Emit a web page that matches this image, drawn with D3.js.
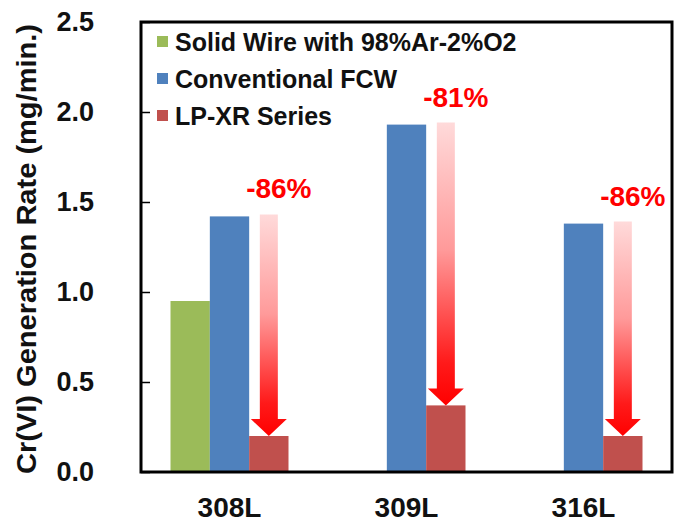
<!DOCTYPE html>
<html>
<head>
<meta charset="utf-8">
<script src="https://cdn.jsdelivr.net/npm/d3@7"></script>
<style>
  html, body { margin: 0; padding: 0; background: #fff; }
  svg { display: block; font-family: Arial, "Liberation Sans", sans-serif; }
</style>
</head>
<body>
<svg id="chart" width="680" height="523"></svg>
<script>
// Cr(VI) generation rate by stainless grade and welding consumable
const grades = ["308L", "309L", "316L"];
const seriesNames = ["Solid Wire with 98%Ar-2%O2", "Conventional FCW", "LP-XR Series"];
const solidWire = [0.95, null, null];
const conventionalFCW = [1.42, 1.93, 1.38];
const lpxrSeries = [0.20, 0.37, 0.20];
const reductionLabels = ["-86%", "-81%", "-86%"];
const yTicks = [0.0, 0.5, 1.0, 1.5, 2.0, 2.5];
const seriesColors = ["#9BBB59", "#4F81BD", "#C0504D"];

const seriesValues = [solidWire, conventionalFCW, lpxrSeries];

const svg = d3.select("#chart");
const plot = { left: 141, top: 22, right: 672, bottom: 472 };

const x0 = d3.scaleBand()
  .domain(grades)
  .range([plot.left, plot.right])
  .paddingInner(1 / 3)
  .paddingOuter(1 / 6);

const x1 = d3.scaleBand()
  .domain(d3.range(seriesNames.length))
  .range([0, x0.bandwidth()])
  .padding(0);

const y = d3.scaleLinear()
  .domain([0, 2.5])
  .range([plot.bottom, plot.top]);

// gradient used for the reduction arrows
const defs = svg.append("defs");
const grad = defs.append("linearGradient")
  .attr("id", "arrowGrad")
  .attr("x1", 0).attr("y1", 0).attr("x2", 0).attr("y2", 1);
grad.append("stop").attr("offset", "0%").attr("stop-color", "#FFDADA");
grad.append("stop").attr("offset", "45%").attr("stop-color", "#FF9A9A");
grad.append("stop").attr("offset", "85%").attr("stop-color", "#FF1A1A");
grad.append("stop").attr("offset", "100%").attr("stop-color", "#FF0000");

// bars
const barRows = [];
grades.forEach((g, gi) => {
  seriesValues.forEach((vals, si) => {
    if (vals[gi] != null) barRows.push({ grade: g, si, value: vals[gi] });
  });
});

svg.append("g").selectAll("rect")
  .data(barRows)
  .join("rect")
  .attr("x", d => x0(d.grade) + x1(d.si))
  .attr("y", d => y(d.value))
  .attr("width", x1.bandwidth())
  .attr("height", d => y(0) - y(d.value))
  .attr("fill", d => seriesColors[d.si]);

// reduction arrows from conventional FCW level down to LP-XR level
const shaftW = 18, headW = 36, headH = 17;
const arrows = svg.append("g");
grades.forEach((g, gi) => {
  const cx = x0(g) + x1(2) + x1.bandwidth() / 2;
  const yTop = y(conventionalFCW[gi]) - 2;
  const yTip = y(lpxrSeries[gi]);
  const yHead = yTip - headH;
  const path = [
    [cx - shaftW / 2, yTop],
    [cx + shaftW / 2, yTop],
    [cx + shaftW / 2, yHead],
    [cx + headW / 2, yHead],
    [cx, yTip],
    [cx - headW / 2, yHead],
    [cx - shaftW / 2, yHead]
  ];
  arrows.append("path")
    .attr("d", d3.line()(path) + "Z")
    .attr("fill", "url(#arrowGrad)");
  arrows.append("text")
    .attr("x", cx + 10)
    .attr("y", yTop - 16)
    .attr("text-anchor", "middle")
    .attr("font-size", 28)
    .attr("font-weight", "bold")
    .attr("fill", "#FF0000")
    .text(reductionLabels[gi]);
});

// frame
svg.append("rect")
  .attr("x", plot.left)
  .attr("y", plot.top)
  .attr("width", plot.right - plot.left)
  .attr("height", plot.bottom - plot.top)
  .attr("fill", "none")
  .attr("stroke", "#000")
  .attr("stroke-width", 3);

// y axis: inward ticks, labels outside
const yAxis = d3.axisLeft(y)
  .tickValues(yTicks)
  .tickFormat(d3.format(".1f"))
  .tickSizeInner(-9)
  .tickSizeOuter(0)
  .tickPadding(47);
const yg = svg.append("g")
  .attr("transform", `translate(${plot.left},0)`)
  .call(yAxis);
yg.select(".domain").remove();
yg.selectAll(".tick line").attr("stroke", "#000").attr("stroke-width", 1.5);
yg.selectAll(".tick text")
  .attr("font-size", 27)
  .attr("font-weight", "bold")
  .attr("font-family", "Arial, 'Liberation Sans', sans-serif")
  .attr("fill", "#111");

// x axis labels
const xAxis = d3.axisBottom(x0).tickSize(0).tickPadding(25);
const xg = svg.append("g")
  .attr("transform", `translate(0,${plot.bottom})`)
  .call(xAxis);
xg.select(".domain").remove();
xg.selectAll(".tick text")
  .attr("font-size", 28)
  .attr("font-weight", "bold")
  .attr("font-family", "Arial, 'Liberation Sans', sans-serif")
  .attr("fill", "#111");

// y axis title
svg.append("text")
  .attr("transform", `translate(36,${(plot.top + plot.bottom) / 2 + 2}) rotate(-90)`)
  .attr("text-anchor", "middle")
  .attr("font-size", 28)
  .attr("font-weight", "bold")
  .attr("fill", "#111")
  .attr("textLength", 450)
  .attr("lengthAdjust", "spacingAndGlyphs")
  .text("Cr(VI) Generation Rate (mg/min.)");

// legend
const legend = svg.append("g");
seriesNames.forEach((name, i) => {
  const base = 51 + i * 37;
  legend.append("rect")
    .attr("x", 157)
    .attr("y", base - 15)
    .attr("width", 11)
    .attr("height", 11)
    .attr("fill", seriesColors[i]);
  legend.append("text")
    .attr("x", 175)
    .attr("y", base)
    .attr("font-size", 25)
    .attr("font-weight", "bold")
    .attr("fill", "#111")
    .text(name);
});
</script>
</body>
</html>
